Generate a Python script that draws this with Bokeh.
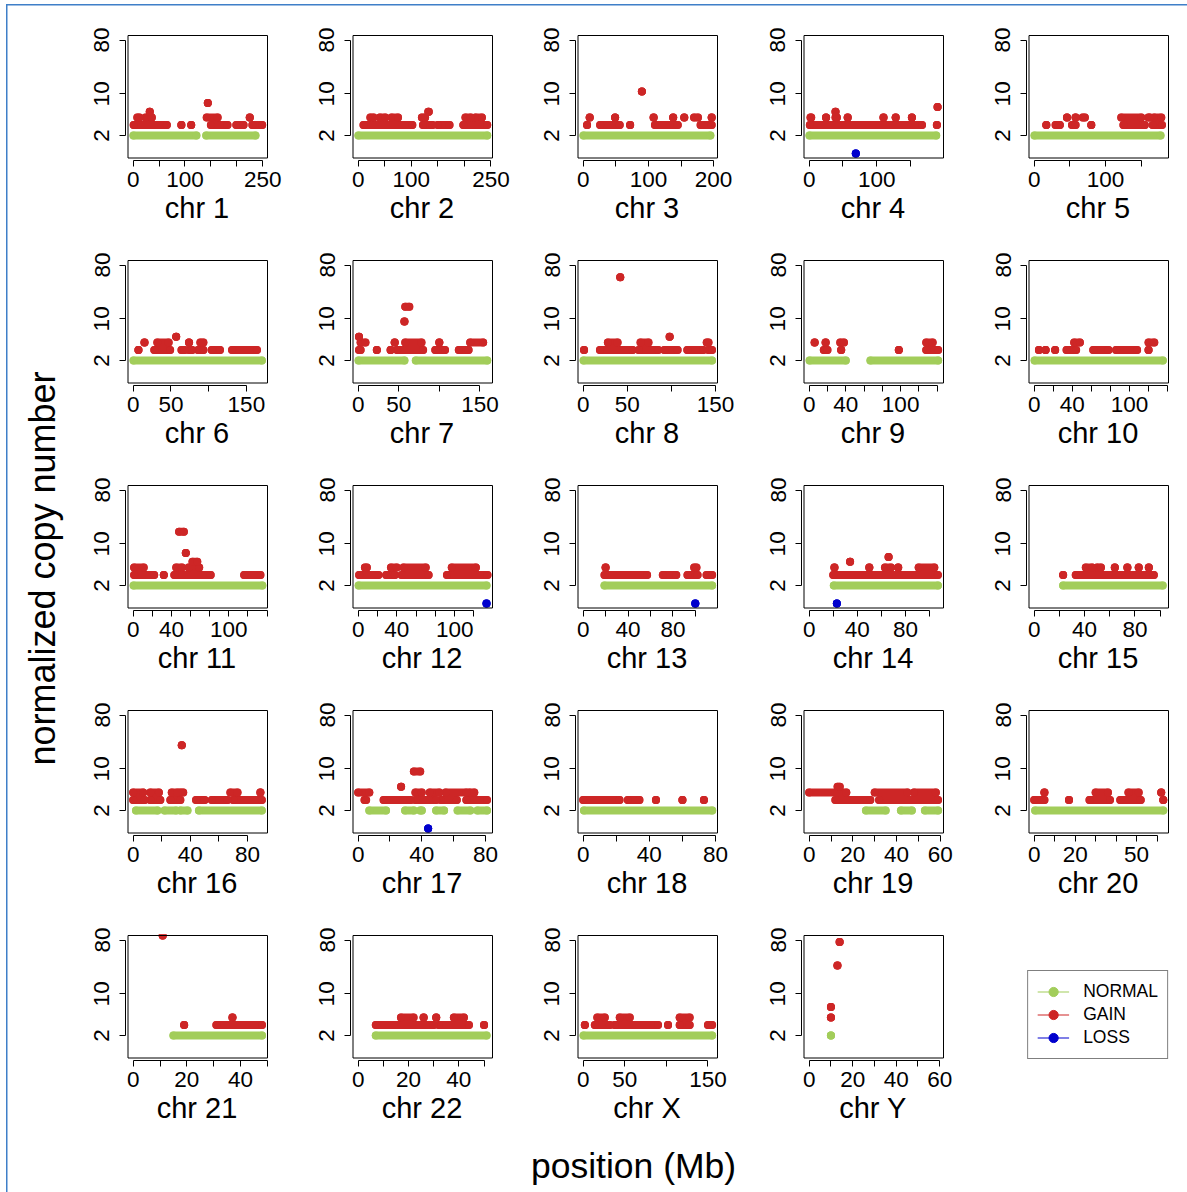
import math
from bokeh.plotting import figure
from bokeh.layouts import row, column
from bokeh.models import Range1d, FixedTicker, BoxAnnotation, Legend, LegendItem, Label
from bokeh.embed import file_html
from bokeh.resources import INLINE

# ---------------- data ----------------
CHROMS = ["1", "2", "3", "4", "5", "6", "7", "8", "9", "10", "11", "12",
          "13", "14", "15", "16", "17", "18", "19", "20", "21", "22", "X", "Y"]
CHROM_LEN_MB = [249.25, 243.20, 198.02, 191.15, 180.92, 171.12, 159.14, 146.36,
                141.21, 135.53, 135.01, 133.85, 115.17, 107.35, 102.53, 90.35,
                81.20, 78.08, 59.13, 63.03, 48.13, 51.30, 155.27, 59.37]
X_TICKS = [
    [0, 50, 100, 150, 200, 250], [0, 50, 100, 150, 200, 250], [0, 50, 100, 150, 200],
    [0, 50, 100, 150], [0, 50, 100, 150], [0, 50, 100, 150], [0, 50, 100, 150],
    [0, 50, 100, 150], [0, 20, 40, 60, 80, 100, 120, 140], [0, 20, 40, 60, 80, 100, 120, 140],
    [0, 20, 40, 60, 80, 100, 120, 140], [0, 20, 40, 60, 80, 100, 120],
    [0, 20, 40, 60, 80, 100], [0, 20, 40, 60, 80, 100], [0, 20, 40, 60, 80, 100],
    [0, 20, 40, 60, 80], [0, 20, 40, 60, 80], [0, 20, 40, 60, 80],
    [0, 10, 20, 30, 40, 50, 60], [0, 10, 20, 30, 40, 50, 60],
    [0, 10, 20, 30, 40, 50], [0, 10, 20, 30, 40, 50], [0, 50, 100, 150],
    [0, 10, 20, 30, 40, 50, 60]]
X_TICK_LABELS_SHOWN = [
    [0, 100, 250], [0, 100, 250], [0, 100, 200], [0, 100], [0, 100], [0, 50, 150],
    [0, 50, 150], [0, 50, 150], [0, 40, 100], [0, 40, 100], [0, 40, 100], [0, 40, 100],
    [0, 40, 80], [0, 40, 80], [0, 40, 80], [0, 40, 80], [0, 40, 80], [0, 40, 80],
    [0, 20, 40, 60], [0, 20, 50], [0, 20, 40], [0, 20, 40], [0, 50, 150], [0, 20, 40, 60]]
Y_TICKS = [2, 10, 80]
Y_LIMITS = [1, 80]
NORMAL_CN = 2

# (chromosome, start Mb, end Mb)
NORMAL_SEGMENTS = [
    ("1", 0.6, 122), ("1", 141, 236), ("2", 0.5, 243), ("3", 0.5, 195), ("4", 0.5, 188),
    ("5", 0.5, 177), ("6", 0.5, 170.5), ("7", 0.5, 57), ("7", 71, 159), ("8", 0.5, 146),
    ("9", 0.5, 40), ("9", 67, 141), ("10", 0.5, 135), ("11", 0.5, 135), ("12", 0.5, 133),
    ("13", 19, 115), ("14", 20.5, 107), ("15", 23, 102),
    ("16", 2, 17), ("16", 22, 30), ("16", 33, 38), ("16", 46, 90),
    ("17", 7, 17.5), ("17", 29.5, 35), ("17", 39, 40), ("17", 49, 54), ("17", 62.5, 70.5), ("17", 75, 81),
    ("18", 0.5, 78), ("19", 26, 35), ("19", 42, 47), ("19", 53, 59), ("20", 0.5, 63),
    ("21", 15, 48), ("22", 7, 51), ("X", 0.5, 155), ("Y", 10, 10)]

# (chromosome, start Mb, end Mb, copy number)
GAIN_SEGMENTS = [
    ("1", 1, 65, 3), ("1", 93, 93, 3), ("1", 112, 112, 3), ("1", 150, 182, 3), ("1", 199, 213, 3),
    ("1", 230, 249, 3), ("1", 8, 12, 4), ("1", 24, 36, 4), ("1", 142, 163, 4), ("1", 225, 225, 4),
    ("1", 32, 32, 5), ("1", 144, 144, 7),
    ("2", 10, 102, 3), ("2", 122, 140, 3), ("2", 150, 172, 3), ("2", 198, 243, 3),
    ("2", 23, 29, 4), ("2", 41, 51, 4), ("2", 63, 75, 4), ("2", 120, 126, 4), ("2", 202, 212, 4),
    ("2", 221, 233, 4), ("2", 132, 133, 5),
    ("3", 6, 6, 3), ("3", 26, 56, 3), ("3", 72, 72, 3), ("3", 110, 145, 3), ("3", 180, 197, 3),
    ("3", 10, 10, 4), ("3", 49, 49, 4), ("3", 108, 108, 4), ("3", 138, 138, 4), ("3", 155, 155, 4),
    ("3", 170, 176, 4), ("3", 197, 197, 4), ("3", 90, 90, 11),
    ("4", 1, 167, 3), ("4", 189, 189, 3), ("4", 2, 3, 4), ("4", 25, 25, 4), ("4", 39, 41, 4),
    ("4", 57, 57, 4), ("4", 110, 110, 4), ("4", 128, 128, 4), ("4", 152, 152, 4),
    ("4", 39, 39, 5), ("4", 190, 190, 6),
    ("5", 17, 17, 3), ("5", 30, 36, 3), ("5", 53, 58, 3), ("5", 80, 80, 3), ("5", 125, 155, 3),
    ("5", 166, 179, 3), ("5", 46, 46, 4), ("5", 58, 58, 4), ("5", 68, 71, 4), ("5", 122, 150, 4),
    ("5", 160, 162, 4), ("5", 168, 178, 4),
    ("6", 7, 7, 3), ("6", 28, 49, 3), ("6", 64, 68, 3), ("6", 74, 78, 3), ("6", 86, 93, 3),
    ("6", 104, 115, 3), ("6", 131, 164, 3), ("6", 15, 15, 4), ("6", 32, 47, 4), ("6", 74, 74, 4),
    ("6", 89, 93, 4), ("6", 57, 57, 5),
    ("7", 1, 3, 3), ("7", 23, 23, 3), ("7", 40, 40, 3), ("7", 48, 80, 3), ("7", 95, 107, 3),
    ("7", 124, 136, 3), ("7", 3, 9, 4), ("7", 45, 45, 4), ("7", 58, 78, 4), ("7", 100, 100, 4),
    ("7", 138, 154, 4), ("7", 1, 1, 5), ("7", 57, 57, 9), ("7", 58, 63, 16),
    ("8", 1, 1, 3), ("8", 19, 56, 3), ("8", 63, 85, 3), ("8", 92, 107, 3), ("8", 118, 136, 3),
    ("8", 142, 146, 3), ("8", 28, 39, 4), ("8", 65, 74, 4), ("8", 140, 142, 4), ("8", 98, 98, 5),
    ("8", 42, 42, 50),
    ("9", 16, 20, 3), ("9", 35, 35, 3), ("9", 98, 98, 3), ("9", 128, 141, 3),
    ("9", 6, 6, 4), ("9", 18, 18, 4), ("9", 34, 38, 4), ("9", 128, 135, 4),
    ("10", 5, 5, 3), ("10", 12, 12, 3), ("10", 22, 22, 3), ("10", 34, 44, 3), ("10", 62, 78, 3),
    ("10", 86, 108, 3), ("10", 120, 120, 3), ("10", 42, 48, 4), ("10", 120, 126, 4),
    ("11", 1, 22, 3), ("11", 32, 32, 3), ("11", 43, 81, 3), ("11", 116, 133, 3),
    ("11", 1, 11, 4), ("11", 45, 51, 4), ("11", 58, 69, 4), ("11", 62, 67, 5), ("11", 55, 55, 7),
    ("11", 48, 53, 16),
    ("12", 1, 21, 3), ("12", 29, 38, 3), ("12", 45, 73, 3), ("12", 92, 134, 3),
    ("12", 7, 9, 4), ("12", 34, 40, 4), ("12", 47, 70, 4), ("12", 97, 122, 4),
    ("13", 19, 57, 3), ("13", 71, 83, 3), ("13", 93, 102, 3), ("13", 110, 115, 3),
    ("13", 20, 20, 4), ("13", 99, 101, 4),
    ("14", 20, 107, 3), ("14", 21, 21, 4), ("14", 50, 50, 4), ("14", 63, 68, 4), ("14", 74, 74, 4),
    ("14", 91, 104, 4), ("14", 34, 34, 5), ("14", 66, 66, 6),
    ("15", 23, 23, 3), ("15", 33, 95, 3), ("15", 41, 46, 4), ("15", 50, 53, 4), ("15", 64, 64, 4),
    ("15", 74, 74, 4), ("15", 83, 83, 4), ("15", 91, 91, 4),
    ("16", 0, 8, 3), ("16", 12, 19, 3), ("16", 26, 33, 3), ("16", 44, 50, 3), ("16", 55, 66, 3),
    ("16", 70, 90, 3), ("16", 0, 7, 4), ("16", 12, 18, 4), ("16", 27, 31, 4), ("16", 33, 35, 4),
    ("16", 68, 73, 4), ("16", 89, 89, 4), ("16", 34, 34, 25),
    ("17", 0, 7, 4), ("17", 36, 40, 4), ("17", 45, 51, 4), ("17", 55, 68, 4), ("17", 70, 73, 4),
    ("17", 4, 5, 3), ("17", 16, 33, 3), ("17", 36, 49, 3), ("17", 52, 62, 3), ("17", 68, 81, 3),
    ("17", 27, 27, 5), ("17", 35, 39, 9),
    ("18", 0, 22, 3), ("18", 27, 34, 3), ("18", 44, 44, 3), ("18", 60, 60, 3), ("18", 73, 73, 3),
    ("19", 0, 17, 4), ("19", 30, 45, 4), ("19", 48, 58, 4), ("19", 12, 28, 3), ("19", 32, 59, 3),
    ("19", 13, 14, 5),
    ("20", 0, 5, 3), ("20", 17, 17, 3), ("20", 27, 37, 3), ("20", 42, 52, 3), ("20", 63, 63, 3),
    ("20", 5, 5, 4), ("20", 30, 36, 4), ("20", 46, 51, 4), ("20", 62, 62, 4),
    ("21", 19, 19, 3), ("21", 31, 48, 3), ("21", 37, 37, 4), ("21", 11, 11, 95),
    ("22", 7, 30, 3), ("22", 32, 44, 3), ("22", 50, 50, 3), ("22", 17, 22, 4), ("22", 26, 26, 4),
    ("22", 31, 31, 4), ("22", 38, 42, 4),
    ("X", 2, 2, 3), ("X", 14, 32, 3), ("X", 38, 90, 3), ("X", 102, 102, 3), ("X", 116, 128, 3),
    ("X", 150, 155, 3), ("X", 17, 26, 4), ("X", 44, 56, 4), ("X", 116, 128, 4),
    ("Y", 10, 10, 4), ("Y", 10, 10, 6), ("Y", 13, 13, 30), ("Y", 14, 14, 74)]

LOSS_SEGMENTS = [("4", 69, 69, 1), ("12", 133, 133, 1), ("13", 100, 100, 1),
                 ("14", 23, 23, 1), ("17", 44, 44, 1)]

LEGEND_LABELS = ["NORMAL", "GAIN", "LOSS"]

# ---------------- style / layout ----------------
COL_NORMAL = "#A2CD5A"
COL_GAIN = "#CD2626"
COL_LOSS = "#0000CD"
FONT = "Liberation Sans"
DOT = 8

BOX_W, BOX_H = 139.5, 122.5
GAP_L, PAD_R, PAD_T, GAP_B = 2.5, 1.0, 1.0, 2.5
FRAME_W, FRAME_H = 143, 126
COL_LB = [55, 53, 53, 53, 53]
COL_RB = [29, 29, 30, 29, 18]
ROW_TB = [34, 14, 14, 14, 14]
ROW_BB = [85, 85, 85, 85, 85]
YT_W = 70
XT_H = 47


def style_axis(ax):
    ax.axis_line_color = "black"
    ax.axis_line_width = 1
    ax.major_tick_line_color = "black"
    ax.major_tick_line_width = 1
    ax.major_tick_out = 6
    ax.major_tick_in = 0
    ax.minor_tick_line_color = None
    ax.major_label_text_font = FONT
    ax.major_label_text_font_size = "22.5px"
    ax.major_label_text_color = "black"


def draw_state(p, segs, color):
    if not segs:
        return
    x0 = [s[0] for s in segs]
    x1 = [s[1] for s in segs]
    y = [s[2] for s in segs]
    p.segment(x0=x0, y0=y, x1=x1, y1=y, line_color=color, line_width=DOT, line_cap="round")
    p.scatter(x=x0 + x1, y=y + y, size=DOT, fill_color=color, line_color=None)


def base_fig(width, height, **kw):
    p = figure(width=width, height=height, toolbar_location=None, output_backend="svg", **kw)
    p.outline_line_color = None
    p.grid.visible = False
    p.border_fill_color = None
    p.background_fill_color = None
    return p


def make_panel(i, lb, rb, tb, bb):
    c = CHROMS[i]
    L = CHROM_LEN_MB[i]
    dpp = 1.08 * L / BOX_W
    xr = Range1d(-0.04 * L - GAP_L * dpp, 1.04 * L + PAD_R * dpp)
    l0, l1 = math.log10(Y_LIMITS[0]), math.log10(Y_LIMITS[1])
    lo, hi = l0 - 0.04 * (l1 - l0), l1 + 0.04 * (l1 - l0)
    ypp = (hi - lo) / BOX_H
    yr = Range1d(10 ** (lo - GAP_B * ypp), 10 ** (hi + PAD_T * ypp))
    p = base_fig(lb + FRAME_W + rb, tb + FRAME_H + bb, x_range=xr, y_range=yr,
                 y_axis_type="log", min_border_left=lb, min_border_right=rb,
                 min_border_top=tb, min_border_bottom=bb)
    p.background_fill_color = "white"

    p.add_layout(BoxAnnotation(left=-0.04 * L, right=1.04 * L, bottom=10 ** lo, top=10 ** hi,
                               fill_color=None, fill_alpha=0, line_color="black",
                               line_alpha=1, line_width=1))

    normal = [(s, e, NORMAL_CN) for (ch, s, e) in NORMAL_SEGMENTS if ch == c]
    gain = [(s, e, cn) for (ch, s, e, cn) in GAIN_SEGMENTS if ch == c]
    loss = [(s, e, cn) for (ch, s, e, cn) in LOSS_SEGMENTS if ch == c]
    draw_state(p, normal, COL_NORMAL)
    draw_state(p, gain, COL_GAIN)
    draw_state(p, loss, COL_LOSS)

    ticks = X_TICKS[i]
    shown = X_TICK_LABELS_SHOWN[i]
    ax = p.xaxis[0]
    style_axis(ax)
    ax.ticker = FixedTicker(ticks=ticks, minor_ticks=[])
    ax.bounds = (ticks[0], ticks[-1])
    ax.major_label_overrides = {t: (str(t) if t in shown else "") for t in ticks}
    ax.major_label_standoff = 5
    ax.axis_label = "chr " + c
    ax.axis_label_text_font = FONT
    ax.axis_label_text_font_size = "29px"
    ax.axis_label_text_font_style = "normal"
    ax.axis_label_text_color = "black"
    ax.axis_label_standoff = 2

    ay = p.yaxis[0]
    style_axis(ay)
    ay.ticker = FixedTicker(ticks=Y_TICKS, minor_ticks=[])
    ay.bounds = (Y_TICKS[0], Y_TICKS[-1])
    ay.major_label_overrides = {t: str(t) for t in Y_TICKS}
    ay.major_label_orientation = "vertical"
    ay.major_label_standoff = 10
    return p


def make_legend_panel(lb, rb, tb, bb):
    p = base_fig(lb + FRAME_W + rb, tb + FRAME_H + bb, x_range=Range1d(0, 1),
                 y_range=Range1d(0, 1), x_axis_location=None, y_axis_location=None,
                 min_border_left=lb, min_border_right=rb, min_border_top=tb, min_border_bottom=bb)
    items = []
    for lab, col in zip(LEGEND_LABELS, [COL_NORMAL, COL_GAIN, COL_LOSS]):
        # one off-frame point so the legend glyph gets drawn; nothing shows in the frame
        rl = p.line(x=[5, 6], y=[5, 5], line_color=col, line_width=1.2)
        rs = p.scatter(x=[5], y=[5], size=5, fill_color=col, line_color=col)
        items.append(LegendItem(label=lab, renderers=[rl, rs]))
    leg = Legend(items=items, location="bottom_right", margin=1, padding=9, spacing=0,
                 glyph_width=32, glyph_height=23, label_height=23, label_standoff=14,
                 label_text_font=FONT, label_text_font_size="17.5px", label_text_color="black",
                 label_text_baseline="middle",
                 border_line_color="black", border_line_width=1,
                 background_fill_color="white", background_fill_alpha=1)
    p.add_layout(leg)
    return p


rows = []
for r in range(5):
    figs = []
    for cc in range(5):
        k = r * 5 + cc
        if k < len(CHROMS):
            figs.append(make_panel(k, COL_LB[cc], COL_RB[cc], ROW_TB[r], ROW_BB[r]))
        else:
            figs.append(make_legend_panel(COL_LB[cc], COL_RB[cc], ROW_TB[r], ROW_BB[r]))
    rows.append(row(*figs))
grid = column(*rows)

grid_h = sum(ROW_TB) + sum(ROW_BB) + 5 * FRAME_H
grid_w = sum(COL_LB) + sum(COL_RB) + 5 * FRAME_W

yt = base_fig(YT_W, grid_h, x_range=Range1d(0, YT_W), y_range=Range1d(0, grid_h),
              x_axis_location=None, y_axis_location=None, min_border=0)
yt.add_layout(Label(x=42, y=grid_h - 568, text="normalized copy number", angle=math.pi / 2,
                    text_align="center", text_baseline="middle", text_font=FONT,
                    text_font_size="36px", text_color="black"))

xt = base_fig(YT_W + grid_w, XT_H, x_range=Range1d(0, YT_W + grid_w),
              y_range=Range1d(0, XT_H), x_axis_location=None, y_axis_location=None, min_border=0)
xt.add_layout(Label(x=633, y=XT_H - 20, text="position (Mb)", text_align="center",
                    text_baseline="middle", text_font=FONT, text_font_size="35.5px",
                    text_color="black"))

root = column(row(yt, grid), xt,
              styles={"box-shadow": "inset 6px 4px 0 0 #ffffff, inset 7.5px 5.5px 0 0 #3F7FC8"})

open("out.html", "w").write(file_html(root, INLINE))
